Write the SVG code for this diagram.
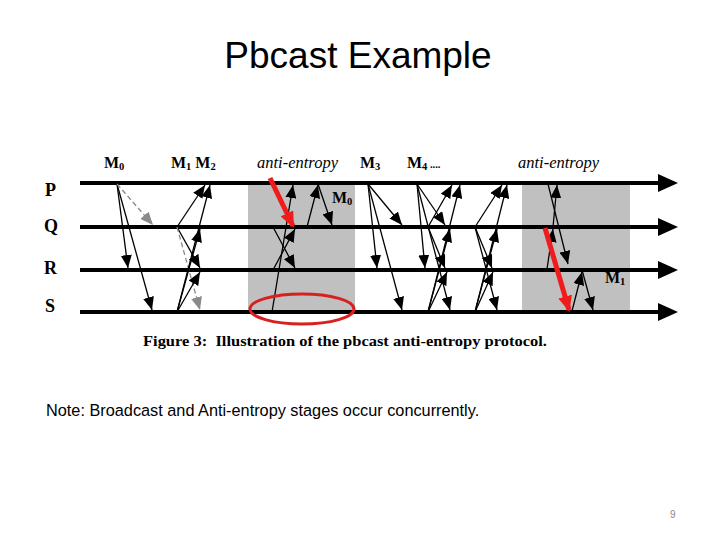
<svg xmlns="http://www.w3.org/2000/svg" width="720" height="540" viewBox="0 0 720 540">
  <defs>
    <style>
      .tl{stroke:#000;stroke-width:4;marker-end:url(#big)}
      .a{stroke:#000;stroke-width:1.3;fill:none;marker-end:url(#ah)}
      .d{stroke:#8a8a8a;stroke-width:1.3;fill:none;stroke-dasharray:5,3;marker-end:url(#ahg)}
      .r{stroke:#ee1c1c;stroke-width:5;fill:none;marker-end:url(#ahr)}
      .lbl{font-family:"Liberation Serif","Times New Roman",serif;font-weight:bold;font-size:18px;fill:#000}
      .m{font-family:"Liberation Serif","Times New Roman",serif;font-weight:bold;font-size:16px;fill:#000}
      .it{font-family:"Liberation Serif","Times New Roman",serif;font-style:italic;font-size:16.5px;fill:#000}
      .sub{font-size:10.5px}
      .box{fill:#c0c0c0}
    </style>
    <marker id="big" markerUnits="userSpaceOnUse" markerWidth="20" markerHeight="18" refX="4" refY="9" orient="auto">
      <path d="M0,0 L20,9 L0,18 z" fill="#000"/>
    </marker>
    <marker id="ah" markerUnits="userSpaceOnUse" markerWidth="13" markerHeight="11" refX="13" refY="5.5" orient="auto">
      <path d="M0,0 L13,5.5 L0,11 z" fill="#000"/>
    </marker>
    <marker id="ahg" markerUnits="userSpaceOnUse" markerWidth="13" markerHeight="11" refX="13" refY="5.5" orient="auto">
      <path d="M0,0 L13,5.5 L0,11 z" fill="#8a8a8a"/>
    </marker>
    <marker id="ahr" markerUnits="userSpaceOnUse" markerWidth="16" markerHeight="14" refX="14" refY="7" orient="auto">
      <path d="M0,0 L16,7 L0,14 z" fill="#ee1c1c"/>
    </marker>
  </defs>
  <rect width="720" height="540" fill="#fff"/>

  <text x="358" y="68" text-anchor="middle" font-family="'Liberation Sans',Arial,sans-serif" font-size="37" fill="#000">Pbcast Example</text>

  <g id="shading">
    <rect class="box" x="248" y="183" width="107" height="129"/>
    <rect class="box" x="522" y="183" width="108" height="129"/>
  </g>

  <g id="top-labels">
    <text class="m" x="104" y="168">M<tspan class="sub" dy="2">0</tspan></text>
    <text class="m" x="171" y="168">M<tspan class="sub" dy="2">1</tspan><tspan dy="-2"> M</tspan><tspan class="sub" dy="2">2</tspan></text>
    <text class="it" x="257" y="168">anti-entropy</text>
    <text class="m" x="360" y="168">M<tspan class="sub" dy="2">3</tspan></text>
    <text class="m" x="407" y="168">M<tspan class="sub" dy="2">4</tspan><tspan class="sub" dy="-2"> ....</tspan></text>
    <text class="it" x="518" y="168">anti-entropy</text>
  </g>

  <g id="P"><line class="tl" x1="80" y1="183" x2="662" y2="183"/><text class="lbl" x="45" y="196">P</text></g>
  <g id="Q"><line class="tl" x1="80" y1="227" x2="662" y2="227"/><text class="lbl" x="44" y="232">Q</text></g>
  <g id="R"><line class="tl" x1="80" y1="270" x2="662" y2="270"/><text class="lbl" x="44" y="274">R</text></g>
  <g id="S"><line class="tl" x1="80" y1="312" x2="662" y2="312"/><text class="lbl" x="45" y="312">S</text></g>

  <g id="connectors">
    <!-- M0 -->
    <line class="a" x1="117" y1="184" x2="128" y2="268"/>
    <line class="a" x1="117" y1="184" x2="152" y2="310"/>
    <line class="d" x1="117" y1="184" x2="153" y2="225"/>
    <!-- M1 M2 -->
    <line class="a" x1="177" y1="227" x2="205" y2="185"/>
    <line class="a" x1="177" y1="227" x2="200" y2="268"/>
    <line class="d" x1="177" y1="227" x2="200" y2="310"/>
    <line class="a" x1="177" y1="312" x2="210" y2="185"/>
    <line class="a" x1="177" y1="312" x2="200" y2="229"/>
    <line class="a" x1="177" y1="312" x2="200" y2="272"/>
    <!-- anti-entropy 1 -->
    <line class="a" x1="272" y1="312" x2="293" y2="185"/>
    <line class="a" x1="273" y1="227" x2="295" y2="268"/>
    <line class="a" x1="273" y1="270" x2="295" y2="229"/>
    <line class="a" x1="307" y1="227" x2="318" y2="185"/>
    <line class="a" x1="318" y1="184" x2="332" y2="225"/>
    <line class="r" x1="270" y1="178" x2="293" y2="226"/>
    <!-- M3 -->
    <line class="a" x1="368" y1="184" x2="402" y2="225"/>
    <line class="a" x1="368" y1="184" x2="377" y2="268"/>
    <line class="a" x1="368" y1="184" x2="402" y2="310"/>
    <!-- M4 -->
    <line class="a" x1="417" y1="184" x2="425" y2="268"/>
    <line class="a" x1="417" y1="184" x2="445" y2="225"/>
    <line class="a" x1="417" y1="184" x2="450" y2="310"/>
    <line class="a" x1="428" y1="227" x2="445" y2="268"/>
    <line class="a" x1="428" y1="227" x2="452" y2="185"/>
    <line class="a" x1="428" y1="312" x2="460" y2="185"/>
    <line class="a" x1="428" y1="312" x2="450" y2="229"/>
    <line class="a" x1="428" y1="312" x2="447" y2="272"/>
    <!-- third broadcast group -->
    <line class="a" x1="475" y1="227" x2="502" y2="185"/>
    <line class="a" x1="475" y1="227" x2="492" y2="268"/>
    <line class="a" x1="475" y1="227" x2="497" y2="310"/>
    <line class="a" x1="475" y1="312" x2="507" y2="185"/>
    <line class="a" x1="475" y1="312" x2="497" y2="229"/>
    <line class="a" x1="475" y1="312" x2="493" y2="272"/>
    <!-- anti-entropy 2 -->
    <line class="a" x1="547" y1="269" x2="553" y2="229"/>
    <line class="a" x1="553" y1="227" x2="557" y2="185"/>
    <line class="a" x1="548" y1="184" x2="568" y2="264"/>
    <line class="a" x1="572" y1="311" x2="582" y2="272"/>
    <line class="a" x1="582" y1="270" x2="593" y2="310"/>
    <line class="r" x1="545" y1="228" x2="569" y2="310"/>
  </g>

  <g id="inner-labels">
    <text class="m" x="332" y="203">M<tspan class="sub" dy="2">0</tspan></text>
    <text class="m" x="605" y="283">M<tspan class="sub" dy="2">1</tspan></text>
  </g>

  <ellipse id="highlight" cx="302" cy="309" rx="52" ry="15" fill="none" stroke="#d92020" stroke-width="3"/>

  <text x="143" y="346" textLength="404" lengthAdjust="spacingAndGlyphs" style="white-space:pre" font-family="'Liberation Serif','Times New Roman',serif" font-weight="bold" font-size="15" fill="#000">Figure 3:  Illustration of the pbcast anti-entropy protocol.</text>

  <text x="46" y="416" font-family="'Liberation Sans',Arial,sans-serif" font-size="16.3" fill="#000">Note: Broadcast and Anti-entropy stages occur concurrently.</text>

  <text x="670" y="518" font-family="'Liberation Sans',Arial,sans-serif" font-size="10" fill="#888">9</text>
</svg>
